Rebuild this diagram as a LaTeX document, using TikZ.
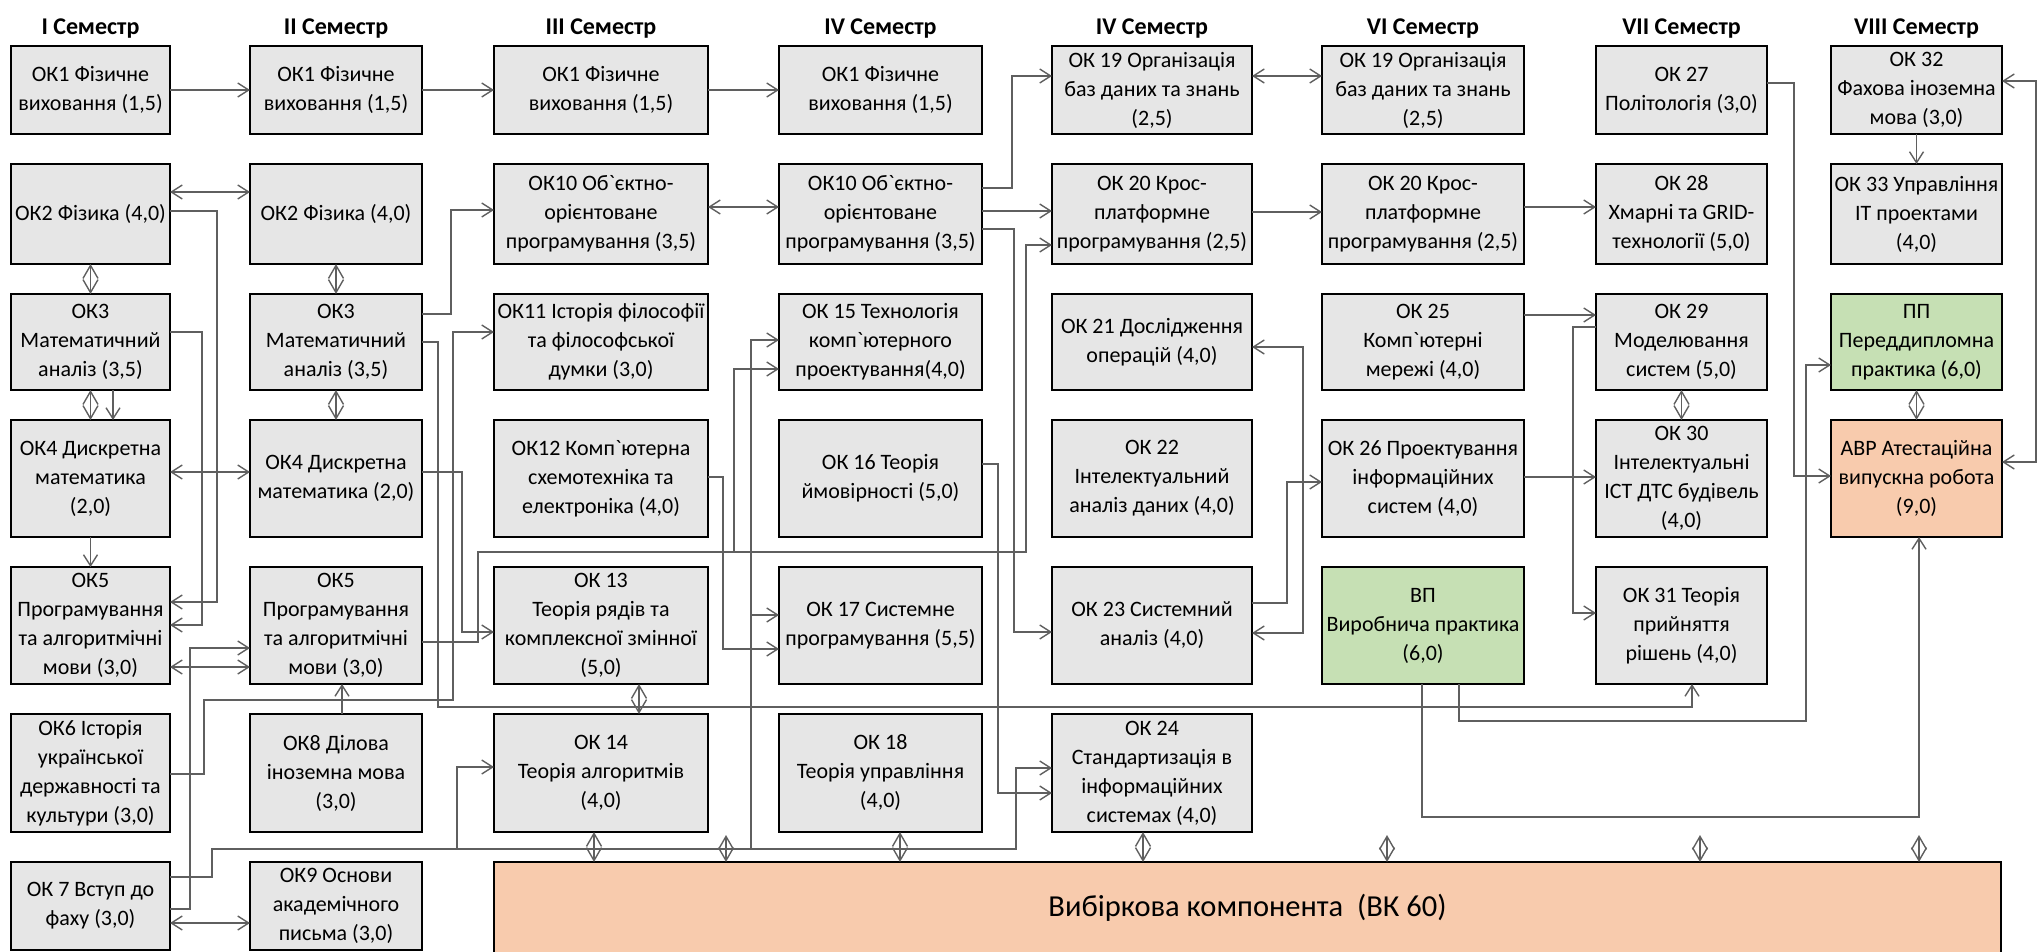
\documentclass[tikz,border=0pt]{standalone}
\usepackage{fontspec}
\setmainfont{Carlito}[Ligatures=TeXOff]
\usepackage{xcolor}
\usetikzlibrary{positioning,arrows.meta}
\definecolor{boxgray}{HTML}{E6E6E6}
\definecolor{pgreen}{HTML}{C6E0B4}
\definecolor{porange}{HTML}{F8CBAD}
\definecolor{linegray}{HTML}{5F5F5F}

\begin{document}
\begin{tikzpicture}[x=1pt, y=-1pt, node distance=30pt and 70pt,
  kbox/.style={draw, line width=2.2pt, fill=boxgray, align=center, inner sep=0pt, outer sep=0pt, font=\fontsize{22}{29}\selectfont},
  sem/.style={font=\bfseries\fontsize{24}{28}\selectfont, inner sep=0pt, outer sep=0pt},
  col1/.style={minimum width=159pt}, col2/.style={minimum width=172pt},
  col3/.style={minimum width=214pt}, col4/.style={minimum width=203pt},
  col5/.style={minimum width=200pt}, col6/.style={minimum width=202pt},
  col7/.style={minimum width=171pt}, col8/.style={minimum width=171pt},
  row1/.style={minimum height=88pt}, row2/.style={minimum height=100pt},
  row3/.style={minimum height=96pt}, row4/.style={minimum height=117pt},
  row5/.style={minimum height=117pt}, row6/.style={minimum height=118pt},
  row7/.style={minimum height=88pt},
  wire/.style={draw=linegray, line width=1.4pt},
  link/.style={wire, -{Straight Barb[length=11pt,width=14pt]}},
  dlink/.style={wire, {Straight Barb[length=11pt,width=14pt]}-{Straight Barb[length=11pt,width=14pt]}},
  diam/.style={wire, {Straight Barb[length=13pt,width=15pt]}-{Straight Barb[length=13pt,width=15pt]}}]
  \useasboundingbox (0,0) rectangle (2042,952);

  % I semester
  \node[kbox, col1, row1] (ok1s1) at (90.5,90) {ОК1 Фізичне\\виховання (1,5)};
  \node[kbox, col1, row2, below=of ok1s1] (ok2s1) {ОК2 Фізика (4,0)};
  \node[kbox, col1, row3, below=of ok2s1] (ok3s1) {ОК3\\Математичний\\аналіз (3,5)};
  \node[kbox, col1, row4, below=of ok3s1] (ok4s1) {ОК4 Дискретна\\математика\\(2,0)};
  \node[kbox, col1, row5, below=of ok4s1] (ok5s1) {ОК5\\Програмування\\та алгоритмічні\\мови (3,0)};
  \node[kbox, col1, row6, below=of ok5s1] (ok6s1) {ОК6 Історія\\української\\державності та\\культури (3,0)};
  \node[kbox, col1, row7, below=of ok6s1] (ok7s1) {ОК 7 Вступ до\\фаху (3,0)};

  % II semester
  \node[kbox, col2, row1, right=80pt of ok1s1] (ok1s2) {ОК1 Фізичне\\виховання (1,5)};
  \node[kbox, col2, row2, below=of ok1s2] (ok2s2) {ОК2 Фізика (4,0)};
  \node[kbox, col2, row3, below=of ok2s2] (ok3s2) {ОК3\\Математичний\\аналіз (3,5)};
  \node[kbox, col2, row4, below=of ok3s2] (ok4s2) {ОК4 Дискретна\\математика (2,0)};
  \node[kbox, col2, row5, below=of ok4s2] (ok5s2) {ОК5\\Програмування\\та алгоритмічні\\мови (3,0)};
  \node[kbox, col2, row6, below=of ok5s2] (ok8s2) {ОК8 Ділова\\іноземна мова\\(3,0)};
  \node[kbox, col2, row7, below=of ok8s2] (ok9s2) {ОК9 Основи\\академічного\\письма (3,0)};

  % III semester
  \node[kbox, col3, row1, right=72pt of ok1s2] (ok1s3) {ОК1 Фізичне\\виховання (1,5)};
  \node[kbox, col3, row2, below=of ok1s3] (ok10s3) {ОК10 Об`єктно-\\орієнтоване\\програмування (3,5)};
  \node[kbox, col3, row3, below=of ok10s3] (ok11s3) {ОК11 Історія філософії\\та філософської\\думки (3,0)};
  \node[kbox, col3, row4, below=of ok11s3] (ok12s3) {ОК12 Комп`ютерна\\схемотехніка та\\електроніка (4,0)};
  \node[kbox, col3, row5, below=of ok12s3] (ok13s3) {ОК 13\\Теорія рядів та\\комплексної змінної\\(5,0)};
  \node[kbox, col3, row6, below=of ok13s3] (ok14s3) {ОК 14\\Теорія алгоритмів\\(4,0)};

  % IV semester
  \node[kbox, col4, row1, right=71pt of ok1s3] (ok1s4) {ОК1 Фізичне\\виховання (1,5)};
  \node[kbox, col4, row2, below=of ok1s4] (ok10s4) {ОК10 Об`єктно-\\орієнтоване\\програмування (3,5)};
  \node[kbox, col4, row3, below=of ok10s4] (ok15s4) {ОК 15 Технологія\\комп`ютерного\\проектування(4,0)};
  \node[kbox, col4, row4, below=of ok15s4] (ok16s4) {ОК 16 Теорія\\ймовірності (5,0)};
  \node[kbox, col4, row5, below=of ok16s4] (ok17s4) {ОК 17 Системне\\програмування (5,5)};
  \node[kbox, col4, row6, below=of ok17s4] (ok18s4) {ОК 18\\Теорія управління\\(4,0)};

  % V semester
  \node[kbox, col5, row1, right=70pt of ok1s4] (ok19s5) {ОК 19 Організація\\баз даних та знань\\(2,5)};
  \node[kbox, col5, row2, below=of ok19s5] (ok20s5) {ОК 20 Крос-\\платформне\\програмування (2,5)};
  \node[kbox, col5, row3, below=of ok20s5] (ok21s5) {ОК 21 Дослідження\\операцій (4,0)};
  \node[kbox, col5, row4, below=of ok21s5] (ok22s5) {ОК 22\\Інтелектуальний\\аналіз даних (4,0)};
  \node[kbox, col5, row5, below=of ok22s5] (ok23s5) {ОК 23 Системний\\аналіз (4,0)};
  \node[kbox, col5, row6, below=of ok23s5] (ok24s5) {ОК 24\\Стандартизація в\\інформаційних\\системах (4,0)};

  % VI semester
  \node[kbox, col6, row1, right=70pt of ok19s5] (ok19s6) {ОК 19 Організація\\баз даних та знань\\(2,5)};
  \node[kbox, col6, row2, below=of ok19s6] (ok20s6) {ОК 20 Крос-\\платформне\\програмування (2,5)};
  \node[kbox, col6, row3, below=of ok20s6] (ok25s6) {ОК 25\\Комп`ютерні\\мережі (4,0)};
  \node[kbox, col6, row4, below=of ok25s6] (ok26s6) {ОК 26 Проектування\\інформаційних\\систем (4,0)};
  \node[kbox, col6, row5, fill=pgreen, below=of ok26s6] (vps6) {ВП\\Виробнича практика\\(6,0)};

  % VII semester
  \node[kbox, col7, row1, right=72pt of ok19s6] (ok27s7) {ОК 27\\Політологія (3,0)};
  \node[kbox, col7, row2, below=of ok27s7] (ok28s7) {ОК 28\\Хмарні та GRID-\\технології (5,0)};
  \node[kbox, col7, row3, below=of ok28s7] (ok29s7) {ОК 29\\Моделювання\\систем (5,0)};
  \node[kbox, col7, row4, below=of ok29s7] (ok30s7) {ОК 30\\Інтелектуальні\\ІСТ ДТС будівель\\(4,0)};
  \node[kbox, col7, row5, below=of ok30s7] (ok31s7) {ОК 31 Теорія\\прийняття\\рішень (4,0)};

  % VIII semester
  \node[kbox, col8, row1, right=64pt of ok27s7] (ok32s8) {ОК 32\\Фахова іноземна\\мова (3,0)};
  \node[kbox, col8, row2, below=of ok32s8] (ok33s8) {ОК 33 Управління\\ІТ проектами\\(4,0)};
  \node[kbox, col8, row3, fill=pgreen, below=of ok33s8] (pps8) {ПП\\Переддипломна\\практика (6,0)};
  \node[kbox, col8, row4, fill=porange, below=of pps8] (avrs8) {АВР Атестаційна\\випускна робота\\(9,0)};

  \node[kbox, fill=porange, minimum width=1507pt, minimum height=92pt, anchor=north west, font=\fontsize{30.5}{36}\selectfont] (vk) at ([yshift=-30pt]ok14s3.south west) {Вибіркова компонента~~(ВК 60)};

  % semester headings
  \node[sem, above=8pt of ok1s1] (h1) {I Семестр};
  \node[sem, above=8pt of ok1s2] (h2) {II Семестр};
  \node[sem, above=8pt of ok1s3] (h3) {III Семестр};
  \node[sem, above=8pt of ok1s4] (h4) {IV Семестр};
  \node[sem, above=8pt of ok19s5] (h5) {IV Семестр};
  \node[sem, above=8pt of ok19s6] (h6) {VI Семестр};
  \node[sem, above=8pt of ok27s7] (h7) {VII Семестр};
  \node[sem, above=8pt of ok32s8] (h8) {VIII Семестр};

  % first year
  \draw[link] (ok1s1) -- (ok1s2);
  \draw[link] (ok1s2) -- (ok1s3);
  \draw[link] (ok1s3) -- (ok1s4);
  \draw[dlink] (ok2s1.east |- 0,192) -- (ok2s2.west |- 0,192);
  \draw[dlink] (ok4s1.east |- 0,472) -- (ok4s2.west |- 0,472);
  \draw[dlink] (ok5s1.east |- 0,667) -- (ok5s2.west |- 0,667);
  \draw[dlink] (ok7s1.east |- 0,923) -- (ok9s2.west |- 0,923);
  \draw[diam] (ok2s1) -- (ok3s1);
  \draw[diam] (ok3s1) -- (ok4s1);
  \draw[link] (ok3s1.south -| 113,0) -- (ok4s1.north -| 113,0);
  \draw[link] (ok4s1) -- (ok5s1);
  \draw[diam] (ok2s2) -- (ok3s2);
  \draw[diam] (ok3s2) -- (ok4s2);
  \draw[link] (ok8s2.north -| 342,0) -- (ok5s2.south -| 342,0);
  \draw[link] (ok2s1.east |- 0,211) -- ++(47,0) |- (ok5s1.east |- 0,602);
  \draw[link] (ok3s1.east |- 0,332) -- ++(32,0) |- (ok5s1.east |- 0,625);
  \draw[link] (ok7s1.east |- 0,909) -- ++(20,0) |- (ok5s2.west |- 0,648);
  \draw[link] (ok6s1.east |- 0,774) -| (204,700) -| (453,332) -- (ok11s3.west |- 0,332);
  \draw[link] (ok7s1.east |- 0,877) -| (212,849) -| (457,767) -- (ok14s3.west |- 0,767);
  \draw[link] (457,849) -| (1016,768) -- (ok24s5.west |- 0,768);
  \draw[link] (751,849) |- (ok15s4.west |- 0,340);
  \draw[link] (751,615) -- (ok17s4.west |- 0,615);
  \draw[link] (ok3s2.east |- 0,314) -| (451,210) -- (ok10s3.west |- 0,210);
  \draw[link] (ok3s2.east |- 0,342) -| (438,707) -| (ok31s7.south -| 1692,0);
  \draw[link] (ok4s2.east |- 0,472) -| (462,632) -- (ok13s3.west |- 0,632);
  \draw[link] (ok5s2.east |- 0,642) -| (478,552) -| (734,369) -- (ok15s4.west |- 0,369);
  \draw[link] (734,552) -| (1026,245) -- (ok20s5.west |- 0,245);

  % second year
  \draw[dlink] (ok10s3.east |- 0,207) -- (ok10s4.west |- 0,207);
  \draw[link] (ok12s3.east |- 0,477) -| (723,649) -- (ok17s4.west |- 0,649);
  \draw[diam] (ok13s3.south -| 639,0) -- (ok14s3.north -| 639,0);
  \draw[link] (ok10s4.east |- 0,188) -| (1012,76) -- (ok19s5.west |- 0,76);
  \draw[link] (ok10s4.east |- 0,211) -- (ok20s5.west |- 0,211);
  \draw[link] (ok10s4.east |- 0,229) -| (1014,632) -- (ok23s5.west |- 0,632);
  \draw[link] (ok16s4.east |- 0,464) -| (998,793) -- (ok24s5.west |- 0,793);

  % third and fourth year
  \draw[dlink] (ok19s5.east |- 0,76) -- (ok19s6.west |- 0,76);
  \draw[link] (ok20s5.east |- 0,212) -- (ok20s6.west |- 0,212);
  \draw[dlink] (ok21s5.east |- 0,347) -- ++(51,0) |- (ok23s5.east |- 0,633);
  \draw[link] (ok23s5.east |- 0,603) -| (1287,482) -- (ok26s6.west |- 0,482);
  \draw[link] (ok20s6.east |- 0,207) -- (ok28s7.west |- 0,207);
  \draw[link] (ok25s6.east |- 0,315) -- (ok29s7.west |- 0,315);
  \draw[link] (ok26s6.east |- 0,477) -- (ok30s7.west |- 0,477);
  \draw[link] (ok29s7.west |- 0,327) -- ++(-23,0) |- (ok31s7.west |- 0,613);
  \draw[diam] (ok29s7) -- (ok30s7);
  \draw[link] (vps6.south -| 1459,0) |- (1806,721) |- (pps8.west |- 0,365);
  \draw[link] (vps6.south -| 1422,0) |- (1919,817) -- (avrs8.south -| 1919,0);
  \draw[link] (ok27s7.east |- 0,83) -| (1794,476) -- (avrs8.west |- 0,476);
  \draw[dlink] (ok32s8.east |- 0,81) -- ++(34,0) |- (avrs8.east |- 0,462);
  \draw[link] (ok32s8) -- (ok33s8);
  \draw[diam] (pps8) -- (avrs8);

  % links to the elective block
  \draw[diam] (ok14s3.south -| 594,0) -- (vk.north -| 594,0);
  \draw[diam] (ok18s4.south -| 900,0) -- (vk.north -| 900,0);
  \draw[diam] (ok24s5.south -| 1143,0) -- (vk.north -| 1143,0);
  \foreach \xv in {726,1387,1700,1919}
    \draw[diam] (vk.north -| \xv,0) -- ++(0,-27);
\end{tikzpicture}
\end{document}
